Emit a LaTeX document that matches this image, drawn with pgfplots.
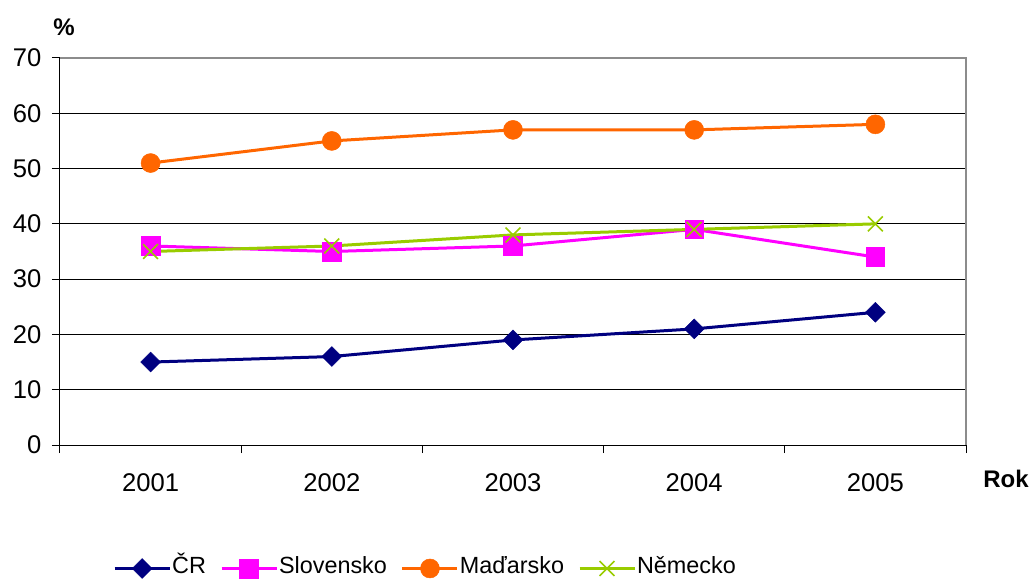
\documentclass[border=0pt]{standalone}
\usepackage{fontspec}
\setmainfont{Liberation Sans}
\usepackage{pgfplots}
\pgfplotsset{compat=1.18}
\definecolor{crblue}{RGB}{0,0,128}
\definecolor{skpink}{RGB}{255,0,255}
\definecolor{huorange}{RGB}{255,102,0}
\definecolor{degreen}{RGB}{153,204,0}
\definecolor{frame}{RGB}{140,140,140}
\begin{document}
\begin{tikzpicture}
\path[use as bounding box] (-60pt,-133pt) rectangle (972pt,445pt);
\begin{axis}[
  name=ax,
  at={(0pt,0pt)}, anchor=south west,
  scale only axis, width=906pt, height=387pt,
  xmin=-0.5, xmax=4.5, ymin=0, ymax=70,
  xtick={-0.5,0.5,1.5,2.5,3.5,4.5}, xticklabels={},
  extra x ticks={0,1,2,3,4},
  extra x tick labels={2001,2002,2003,2004,2005},
  extra x tick style={major tick length=0pt, grid=none},
  ytick={0,10,...,70},
  axis lines*=left,
  axis line style={black, line width=1pt},
  tick align=outside,
  major tick length=8pt,
  tick style={black, line width=1pt},
  ymajorgrids, major grid style={black, line width=0.9pt},
  /pgf/number format/assume math mode=true,
  tick label style={font=\fontsize{25.6}{30}\selectfont},
  yticklabel style={xshift=-7pt},
  xticklabel style={yshift=-25pt},
  legend style={at={(0.0585,-0.3125)}, anchor=west, draw=none,
    inner xsep=0pt, inner ysep=0pt,
    nodes={inner xsep=1pt, inner ysep=0pt},
    font=\fontsize{23.4}{27}\selectfont,
    /tikz/every even column/.append style={column sep=13pt}},
  legend columns=4,
  legend image code/.code={\draw[mark repeat=2,mark phase=2] plot coordinates {(0pt,-4pt) (27.5pt,-4pt) (55pt,-4pt)};},
]
\addplot[crblue, line width=3pt, mark=square*, mark size=7pt,
  mark options={rotate=45, solid, line width=0.5pt}]
  coordinates {(0,15) (1,16) (2,19) (3,21) (4,24)};
\addlegendentry{\vphantom{Č}ČR}
\addplot[skpink, line width=3pt, mark=square*, mark size=9.3pt,
  mark options={solid, line width=0.5pt}]
  coordinates {(0,36) (1,35) (2,36) (3,39) (4,34)};
\addlegendentry{\vphantom{Č}Slovensko}
\addplot[huorange, line width=3pt, mark=*, mark size=9.5pt,
  mark options={solid, line width=0.5pt}]
  coordinates {(0,51) (1,55) (2,57) (3,57) (4,58)};
\addlegendentry{\vphantom{Č}Maďarsko}
\addplot[degreen, line width=3pt, mark=x, mark size=10.5pt,
  mark options={solid, line width=1.6pt}]
  coordinates {(0,35) (1,36) (2,38) (3,39) (4,40)};
\addlegendentry{\vphantom{Č}Německo}
\end{axis}
\draw[frame, line width=1.3pt] (ax.north west) -- (ax.north east) -- (ax.south east);
\node[font=\fontsize{24}{28}\selectfont\bfseries, xshift=4pt, yshift=31pt] at (ax.north west) {\%};
\node[font=\fontsize{24}{28}\selectfont\bfseries, xshift=40pt, yshift=-34pt] at (ax.south east) {Rok};
\end{tikzpicture}
\end{document}
